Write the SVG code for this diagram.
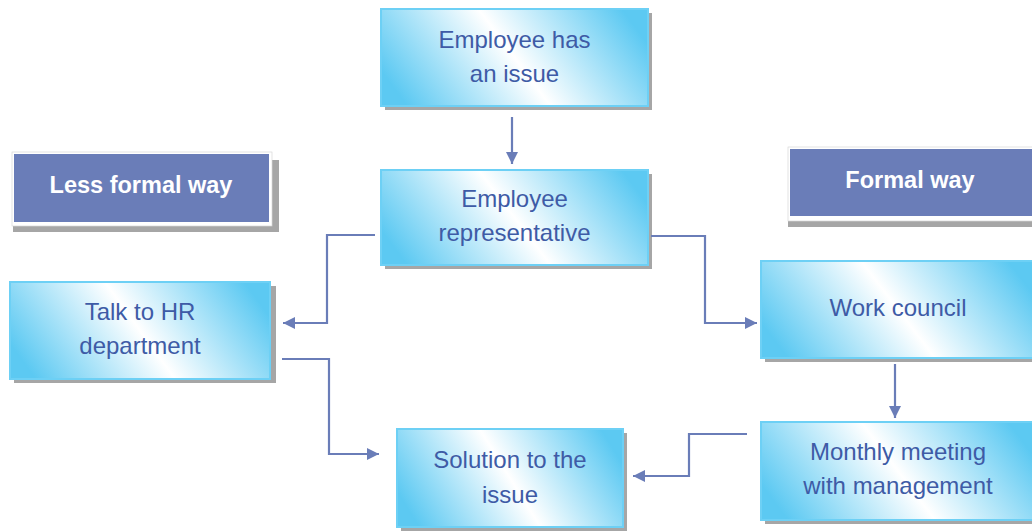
<svg xmlns="http://www.w3.org/2000/svg" width="1032" height="531" viewBox="0 0 1032 531">
<defs>
<linearGradient id="g" x1="0" y1="0.635" x2="1" y2="0.365">
<stop offset="0" stop-color="#5cc9f2"/>
<stop offset="0.5" stop-color="#ffffff"/>
<stop offset="1" stop-color="#5cc9f2"/>
</linearGradient>
<marker id="ah" markerWidth="12" markerHeight="12" viewBox="0 0 12 12" refX="12" refY="6" orient="auto" markerUnits="userSpaceOnUse">
<path d="M0,0 L12,6 L0,12 Z" fill="#6a7db8"/>
</marker>
<style>
.sh{fill:#a6a6a6}
.box{fill:url(#g);stroke:#6dd0f5;stroke-width:2}
.t{font-family:"Liberation Sans",Arial,sans-serif;font-size:24px;fill:#3e5ba6;text-anchor:middle}
.dk{fill:#6a7db8}
.wb{fill:#ffffff;stroke:#d8d8d8;stroke-width:0.7}
.tb{font-family:"Liberation Sans",Arial,sans-serif;font-size:23.5px;font-weight:bold;fill:#ffffff;text-anchor:middle}
.c{fill:none;stroke:#6a7db8;stroke-width:2.2}
</style>
</defs>
<rect width="1032" height="531" fill="#ffffff"/>

<g id="less-formal">
<rect class="sh" x="13" y="160" width="266" height="72"/>
<rect class="wb" x="12" y="152" width="260" height="74"/>
<rect class="dk" x="14" y="154" width="255" height="68"/>
<text class="tb" x="141" y="193">Less formal way</text>
</g>

<g id="formal">
<rect class="sh" x="788" y="160" width="250" height="67"/>
<rect class="wb" x="788" y="147" width="250" height="74"/>
<rect class="dk" x="790" y="149" width="245" height="67"/>
<text class="tb" x="910" y="188">Formal way</text>
</g>

<g id="n1">
<rect class="sh" x="385" y="13" width="267" height="97"/>
<rect class="box" x="381" y="9" width="267" height="97"/>
<text class="t" x="514.5" y="48">Employee has</text>
<text class="t" x="514.5" y="82">an issue</text>
</g>

<g id="n2">
<rect class="sh" x="385" y="174" width="267" height="95"/>
<rect class="box" x="381" y="170" width="267" height="95"/>
<text class="t" x="514.5" y="207">Employee</text>
<text class="t" x="514.5" y="241">representative</text>
</g>

<g id="n3">
<rect class="sh" x="14" y="286" width="262" height="97"/>
<rect class="box" x="10" y="282" width="260" height="97"/>
<text class="t" x="140" y="320">Talk to HR</text>
<text class="t" x="140" y="354">department</text>
</g>

<g id="n4">
<rect class="sh" x="401" y="433" width="226" height="98"/>
<rect class="box" x="397" y="429" width="226" height="98"/>
<text class="t" x="510" y="468">Solution to the</text>
<text class="t" x="510" y="503">issue</text>
</g>

<g id="n5">
<rect class="sh" x="765" y="265" width="274" height="97"/>
<rect class="box" x="761" y="261" width="274" height="97"/>
<text class="t" x="898" y="316">Work council</text>
</g>

<g id="n6">
<rect class="sh" x="765" y="426" width="274" height="98"/>
<rect class="box" x="761" y="422" width="274" height="98"/>
<text class="t" x="898" y="460">Monthly meeting</text>
<text class="t" x="898" y="494">with management</text>
</g>

<g id="connectors">
<path class="c" d="M512,117 V164" marker-end="url(#ah)"/>
<path class="c" d="M375,235 H327 V323 H283" marker-end="url(#ah)"/>
<path class="c" d="M651,236 H705 V323 H757" marker-end="url(#ah)"/>
<path class="c" d="M282,359 H329 V454 H379" marker-end="url(#ah)"/>
<path class="c" d="M895,364 V418" marker-end="url(#ah)"/>
<path class="c" d="M747,434 H689 V476 H633" marker-end="url(#ah)"/>
</g>
</svg>
